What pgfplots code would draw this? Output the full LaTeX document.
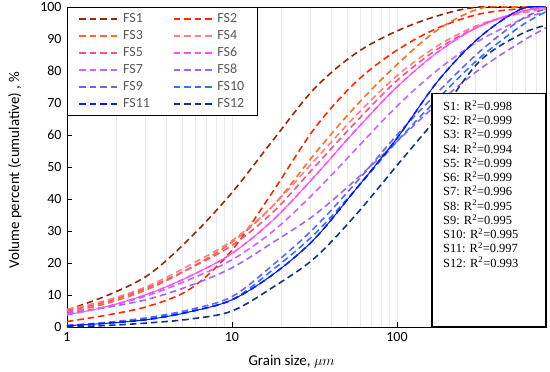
\documentclass[border=0pt]{standalone}
\usepackage{fontspec}
\setmainfont{Carlito}
\newfontfamily\timesf{Liberation Serif}
\usepackage{pgfplots}
\pgfplotsset{compat=1.18}

\definecolor{cA}{RGB}{150,40,10}
\definecolor{cB}{RGB}{255,40,0}
\definecolor{cC}{RGB}{255,110,30}
\definecolor{cD}{RGB}{255,128,128}
\definecolor{cE}{RGB}{255,80,130}
\definecolor{cF}{RGB}{255,80,255}
\definecolor{cG}{RGB}{200,100,255}
\definecolor{cH}{RGB}{160,100,255}
\definecolor{cI}{RGB}{100,100,255}
\definecolor{cJ}{RGB}{40,120,255}
\definecolor{cK}{RGB}{0,30,255}
\definecolor{cL}{RGB}{20,50,140}
\definecolor{legtext}{RGB}{89,89,89}

\begin{document}
\begin{tikzpicture}
\useasboundingbox (-67bp,-45bp) rectangle (483bp,327bp);
\begin{axis}[
  scale only axis,
  width=479bp, height=320bp,
  xmode=log, xmin=1, xmax=800,
  ymin=0, ymax=100,
  xtick={1,10,100}, xticklabels={1,10,100},
  minor xtick={2,3,4,5,6,7,8,9,20,30,40,50,60,70,80,90,200,300,400,500,600,700,800},
  ytick={0,10,...,100},
  xmajorgrids, xminorgrids,
  grid style={gray!18, line width=0.6bp},
  tick align=inside,
  major tick length=5bp, minor tick length=0bp,
  xtick pos=bottom, ytick pos=left,
  tick style={black, line width=0.8bp},
  axis line style={black, line width=0.9bp},
  /pgf/number format/assume math mode=true,
  ticklabel style={font=\fontsize{14}{16}\selectfont},
  yticklabel style={xshift=-2bp},
  xticklabel style={yshift=-2bp},
  xlabel={Grain size, $\mu m$},
  ylabel={Volume percent (cumulative) , \%},
  label style={font=\fontsize{15}{17}\selectfont},
  xlabel style={at={(axis description cs:0.469,-0.108)}, anchor=center},
  ylabel style={at={(axis description cs:-0.109,0.49)}, anchor=center},
  every axis plot/.append style={line width=1.6bp, dash pattern=on 6.5bp off 4bp, smooth, tension=0.55},
  legend columns=2,
  legend cell align=left,
  legend style={at={(0,1)}, anchor=north west, draw=black, line width=1.1bp,
    font=\fontsize{14}{16}\selectfont\color{legtext},
    nodes={text height=10pt, text depth=3pt, inner sep=2pt},
    inner xsep=11bp, inner ysep=3bp,
    /tikz/every odd column/.append style={column sep=2bp},
    /tikz/every even column/.append style={column sep=21bp}},
  legend image code/.code={\draw[#1, line width=1.6bp, dash pattern=on 6.5bp off 4bp] (0bp,0bp) -- (39bp,0bp);},
]
\addplot[cA] coordinates {(1,5.3)(1.78,10)(3.16,16.5)(5.62,28)(10,42)(17.8,58.5)(31.6,74.5)(56.2,85.5)(100,92.5)(178,97.3)(316,100)(800,100)};
\addlegendentry{FS1}
\addplot[cB] coordinates {(1,1.7)(1.78,3.8)(3.16,6.6)(5.62,12)(10,24)(17.8,42.5)(31.6,62)(56.2,76.5)(100,86.5)(178,93.5)(316,97.8)(562,99.5)(800,100)};
\addlegendentry{FS2}
\addplot[cC] coordinates {(1,4.5)(1.78,7.5)(3.16,12)(5.62,18.5)(10,26.5)(17.8,38)(31.6,54)(56.2,69)(100,82)(178,93)(316,99.5)(500,100)(800,100)};
\addlegendentry{FS3}
\addplot[cD] coordinates {(1,5.5)(1.78,8.5)(3.16,13)(5.62,19.5)(10,27)(17.8,38)(31.6,52)(56.2,66)(100,78.5)(178,88)(316,94.5)(562,98)(800,99.3)};
\addlegendentry{FS4}
\addplot[cE] coordinates {(1,5)(1.78,8)(3.16,12.5)(5.62,18.5)(10,25.5)(17.8,36)(31.6,50)(56.2,64)(100,77)(178,87)(316,94)(562,98.5)(800,99.8)};
\addlegendentry{FS5}
\addplot[cF] coordinates {(1,3.8)(1.78,6.5)(3.16,10.5)(5.62,16)(10,23)(17.8,33.5)(31.6,47)(56.2,61.5)(100,75)(178,86)(316,94)(562,98.5)(800,100)};
\addlegendentry{FS6}
\addplot[cG] coordinates {(1,4)(1.78,6.5)(3.16,10)(5.62,15)(10,21)(17.8,30)(31.6,42)(56.2,55.5)(100,69)(178,80.5)(316,89.5)(562,96)(800,98.5)};
\addlegendentry{FS7}
\addplot[cH] coordinates {(1,4.3)(1.78,6.2)(3.16,8.8)(5.62,13)(10,18.5)(17.8,26.5)(31.6,35)(56.2,46)(100,58)(178,70)(316,80.5)(562,89)(800,93.5)};
\addlegendentry{FS8}
\addplot[cI] coordinates {(1,0.5)(1.78,1.5)(3.16,3)(5.62,5.5)(10,9.5)(17.8,19.5)(31.6,31)(56.2,45)(100,60)(178,73.5)(316,86)(562,96)(800,99.5)};
\addlegendentry{FS9}
\addplot[cJ] coordinates {(1,0.4)(1.78,1.3)(3.16,2.7)(5.62,5)(10,8.5)(17.8,18)(31.6,29)(56.2,43)(100,58)(178,71.5)(316,84)(562,94)(800,98.5)};
\addlegendentry{FS10}
\addplot[cK] coordinates {(1,0.4)(1.78,1.2)(3.16,2.4)(5.62,4.8)(10,8.5)(17.8,16.5)(31.6,27.5)(56.2,43)(100,59)(178,77)(316,90.5)(562,99.3)(800,100)};
\addlegendentry{FS11}
\addplot[cL] coordinates {(1,0)(1.78,0.5)(3.16,1.3)(5.62,2.5)(10,5)(17.8,12.5)(31.6,21.5)(56.2,35)(100,50.5)(178,66)(316,83)(562,91.5)(800,94.3)};
\addlegendentry{FS12}
% measured (solid) curves
\addplot[cF, solid, line width=1bp, forget plot] coordinates {(1,3.8)(1.78,6.5)(3.16,10.5)(5.62,16)(10,23)(17.8,33.5)(31.6,47)(56.2,61.5)(100,75)(178,86)(316,94)(562,98.5)(800,100)};
\addplot[cK, solid, line width=1bp, forget plot] coordinates {(1,0.4)(1.78,1.2)(3.16,2.4)(5.62,4.8)(10,8.5)(17.8,16.5)(31.6,27.5)(56.2,43)(100,59)(178,77)(316,90.5)(562,99.3)(800,100)};
\draw[black, line width=1.1bp, fill=white] (rel axis cs:0.762,0) rectangle (rel axis cs:1,0.731);
\node[anchor=north west, align=left, inner xsep=11bp, inner ysep=7bp,
  font=\timesf\fontsize{12.5}{14.3}\selectfont] at (rel axis cs:0.762,0.731)
  {S1: R\textsuperscript{2}=0.998\\
   S2: R\textsuperscript{2}=0.999\\
   S3: R\textsuperscript{2}=0.999\\
   S4: R\textsuperscript{2}=0.994\\
   S5: R\textsuperscript{2}=0.999\\
   S6: R\textsuperscript{2}=0.999\\
   S7: R\textsuperscript{2}=0.996\\
   S8: R\textsuperscript{2}=0.995\\
   S9: R\textsuperscript{2}=0.995\\
   S10: R\textsuperscript{2}=0.995\\
   S11: R\textsuperscript{2}=0.997\\
   S12: R\textsuperscript{2}=0.993};
\end{axis}
\end{tikzpicture}
\end{document}
